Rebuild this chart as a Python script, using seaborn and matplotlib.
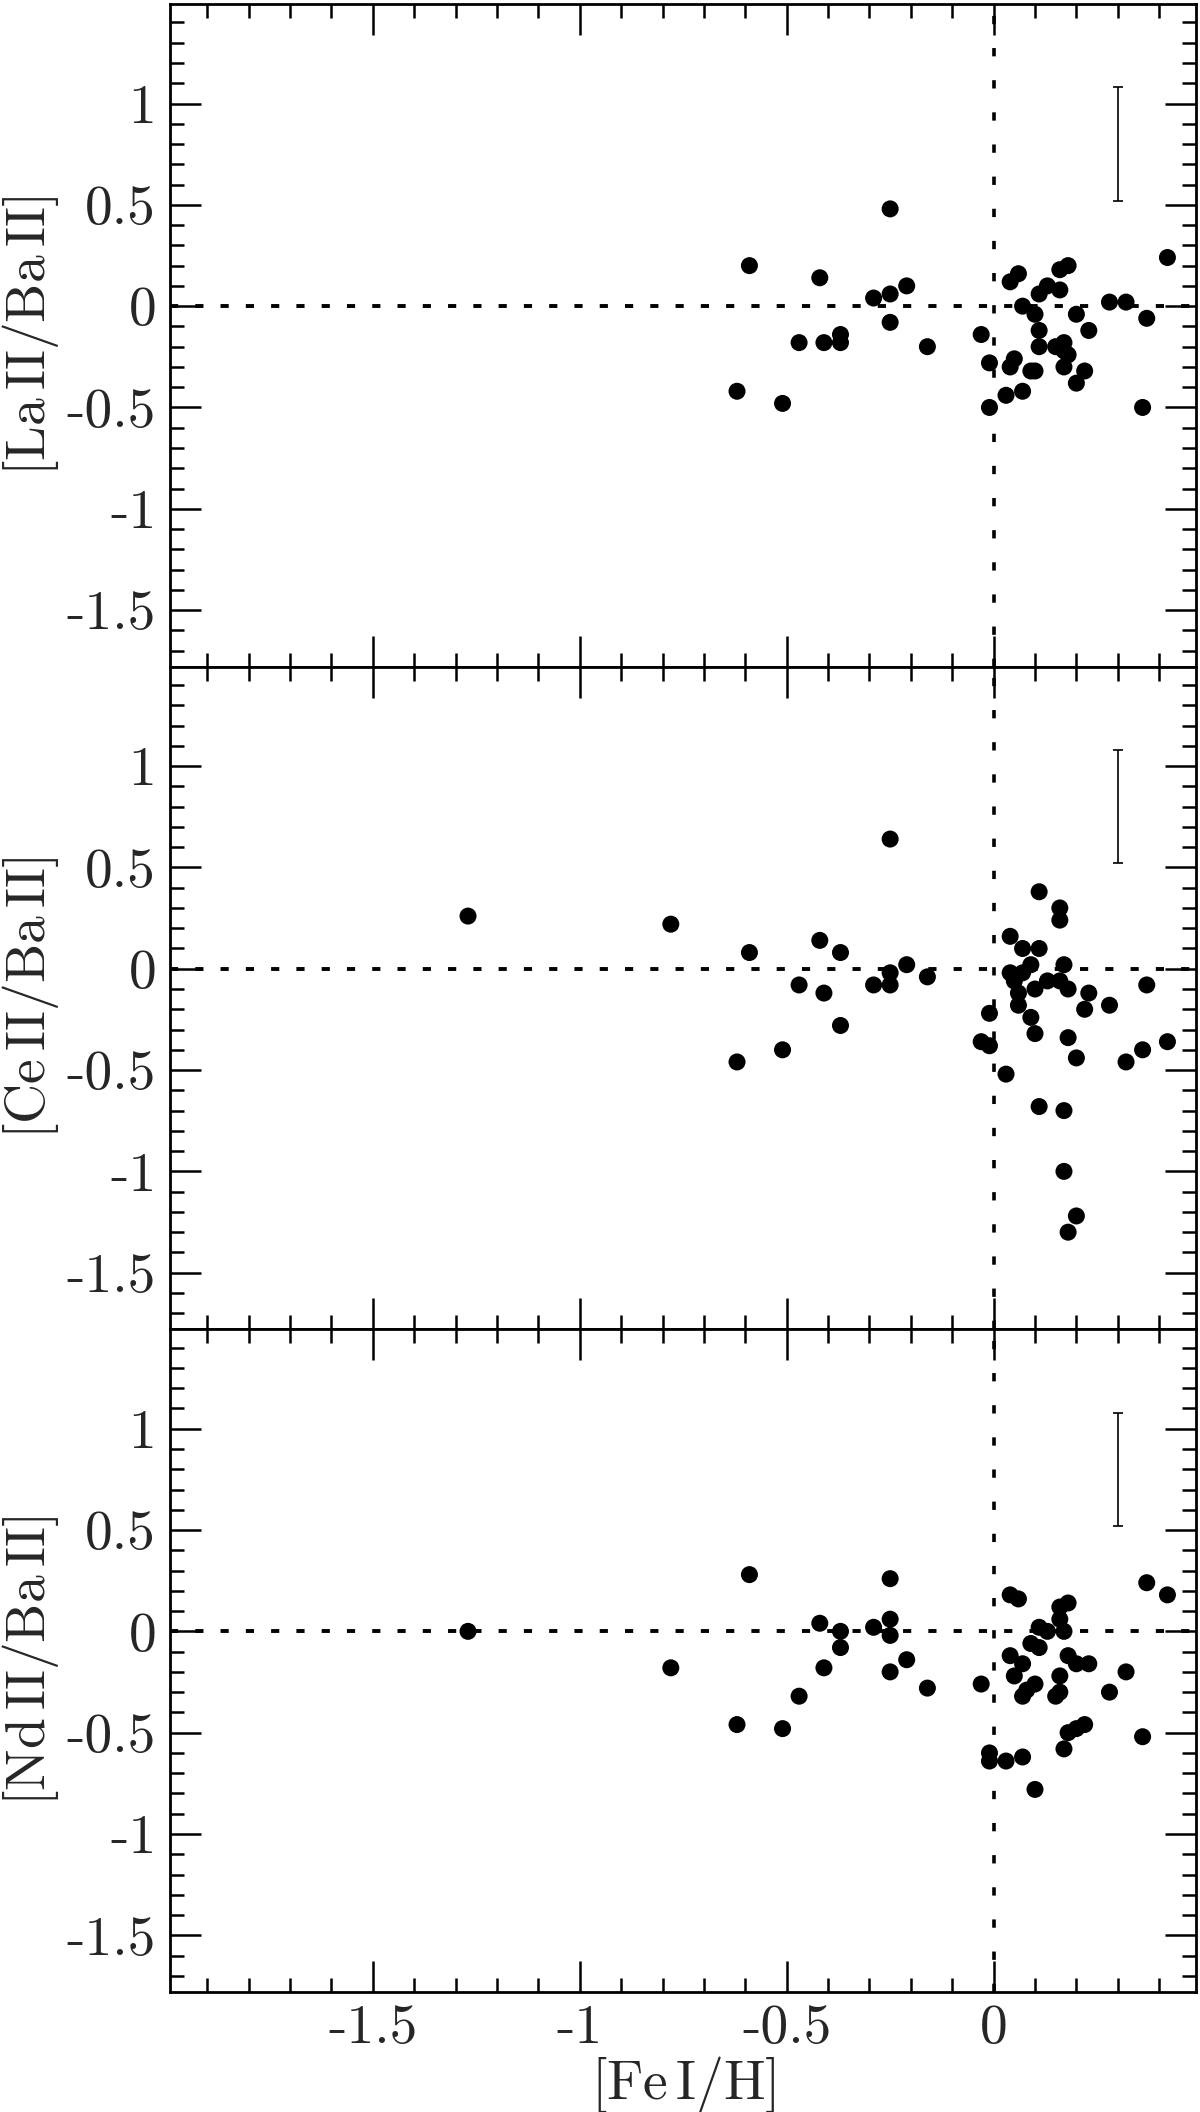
import matplotlib
matplotlib.use("Agg")
import matplotlib.pyplot as plt
from matplotlib.ticker import MultipleLocator, FuncFormatter
import seaborn as sns
import pandas as pd

# [Fe I/H] and abundance ratios
feh_la = [-0.59, -0.62, -0.51, -0.47, -0.42, -0.41, -0.37, -0.37, -0.29, -0.25, -0.25, -0.25,
          -0.21, -0.16, -0.03, -0.01, -0.01, 0.04, 0.06, 0.07, 0.10, 0.11, 0.13, 0.11, 0.11,
          0.16, 0.18, 0.16, 0.20, 0.23, 0.15, 0.17, 0.17, 0.18, 0.17, 0.22, 0.20, 0.04, 0.05,
          0.09, 0.10, 0.03, 0.07, 0.28, 0.32, 0.37, 0.36, 0.42]
la_ba = [0.20, -0.42, -0.48, -0.18, 0.14, -0.18, -0.14, -0.18, 0.04, 0.48, 0.06, -0.08,
         0.10, -0.20, -0.14, -0.28, -0.50, 0.12, 0.16, 0.00, -0.04, 0.06, 0.10, -0.12, -0.20,
         0.18, 0.20, 0.08, -0.04, -0.12, -0.20, -0.18, -0.22, -0.24, -0.30, -0.32, -0.38, -0.30, -0.26,
         -0.32, -0.32, -0.44, -0.42, 0.02, 0.02, -0.06, -0.50, 0.24]

feh_ce = [-1.27, -0.78, -0.59, -0.62, -0.51, -0.47, -0.42, -0.41, -0.37, -0.37, -0.29, -0.25,
          -0.25, -0.25, -0.21, -0.16, -0.03, -0.01, -0.01, 0.03, 0.04, 0.04, 0.05, 0.07, 0.07,
          0.06, 0.06, 0.09, 0.10, 0.09, 0.10, 0.11, 0.11, 0.11, 0.13, 0.16, 0.16, 0.16, 0.17,
          0.18, 0.18, 0.17, 0.17, 0.20, 0.18, 0.20, 0.23, 0.22, 0.28, 0.32, 0.36, 0.37, 0.42]
ce_ba = [0.26, 0.22, 0.08, -0.46, -0.40, -0.08, 0.14, -0.12, 0.08, -0.28, -0.08, 0.64,
         -0.02, -0.08, 0.02, -0.04, -0.36, -0.38, -0.22, -0.52, 0.16, -0.02, -0.06, 0.10, -0.02,
         -0.12, -0.18, 0.02, -0.10, -0.24, -0.32, 0.38, 0.10, -0.68, -0.06, 0.30, 0.24, -0.06, 0.02,
         -0.10, -0.34, -0.70, -1.00, -1.22, -1.30, -0.44, -0.12, -0.20, -0.18, -0.46, -0.40, -0.08, -0.36]

feh_nd = [-1.27, -0.78, -0.59, -0.62, -0.51, -0.47, -0.42, -0.41, -0.37, -0.37, -0.29, -0.25,
          -0.25, -0.25, -0.25, -0.21, -0.16, -0.03, -0.01, -0.01, 0.03, 0.04, 0.06, 0.04, 0.07,
          0.05, 0.07, 0.07, 0.08, 0.10, 0.09, 0.11, 0.11, 0.13, 0.10, 0.16, 0.17, 0.18, 0.16,
          0.18, 0.16, 0.16, 0.15, 0.20, 0.23, 0.17, 0.18, 0.20, 0.22, 0.28, 0.32, 0.36, 0.37, 0.42]
nd_ba = [0.00, -0.18, 0.28, -0.46, -0.48, -0.32, 0.04, -0.18, 0.00, -0.08, 0.02, 0.26,
         0.06, -0.02, -0.20, -0.14, -0.28, -0.26, -0.60, -0.64, -0.64, 0.18, 0.16, -0.12, -0.16,
         -0.22, -0.32, -0.62, -0.29, -0.26, -0.06, 0.02, -0.08, 0.00, -0.78, 0.06, 0.00, 0.14, 0.12,
         -0.12, -0.22, -0.30, -0.32, -0.16, -0.16, -0.58, -0.50, -0.48, -0.46, -0.30, -0.20, -0.52, 0.24, 0.18]

ylabels = [r'$[\mathrm{La\,II/Ba\,II}]$', r'$[\mathrm{Ce\,II/Ba\,II}]$', r'$[\mathrm{Nd\,II/Ba\,II}]$']
xlabel = r'$[\mathrm{Fe\,I/H}]$'

# typical error bar shown in the corner
err_x, err_y, err_size = 0.3, 0.8, 0.28

sns.set_style('ticks')
plt.rcParams['font.family'] = ['cmr10', 'DejaVu Serif']
plt.rcParams['mathtext.fontset'] = 'cm'
plt.rcParams['axes.unicode_minus'] = False
plt.rcParams['font.size'] = 40

fig, axes = plt.subplots(3, 1, figsize=(12, 21.12), dpi=100, sharex=True)
fig.subplots_adjust(left=0.1417, right=0.997, top=0.998, bottom=0.0568, hspace=0)


def tick_fmt(v, pos):
    s = '%g' % round(v, 2)
    return '0' if s == '-0' else s


fmt = FuncFormatter(tick_fmt)

panels = [(feh_la, la_ba), (feh_ce, ce_ba), (feh_nd, nd_ba)]
for ax, (xs, ys), lab in zip(axes, panels, ylabels):
    df = pd.DataFrame({'feh': xs, 'ratio': ys})
    ax.axhline(0, color='black', lw=2.8, ls=(0, (2.1, 4.4)), zorder=1)
    ax.axvline(0, color='black', lw=2.6, ls=(0, (2.3, 6.6)), zorder=1)
    sns.scatterplot(data=df, x='feh', y='ratio', ax=ax, color='black', s=150,
                    edgecolor='none', zorder=3)
    ax.errorbar([err_x], [err_y], yerr=[err_size], fmt='none', ecolor='black',
                elinewidth=1.2, capsize=3.6, capthick=1.2)
    ax.set_xlim(-1.99, 0.49)
    ax.set_ylim(-1.78, 1.49)
    ax.xaxis.set_major_locator(MultipleLocator(0.5))
    ax.xaxis.set_minor_locator(MultipleLocator(0.1))
    ax.yaxis.set_major_locator(MultipleLocator(0.5))
    ax.yaxis.set_minor_locator(MultipleLocator(0.1))
    ax.xaxis.set_major_formatter(fmt)
    ax.yaxis.set_major_formatter(fmt)
    ax.tick_params(which='both', direction='in', top=True, right=True, width=1.8,
                   labelsize=40, color='black')
    ax.tick_params(which='major', length=22)
    ax.tick_params(which='minor', length=10)
    ax.tick_params(axis='y', pad=10)
    ax.tick_params(axis='x', pad=9)
    for sp in ax.spines.values():
        sp.set_linewidth(2.0)
        sp.set_color('black')
    ax.set_ylabel(lab, fontsize=40, labelpad=4)
    ax.set_xlabel('')

axes[-1].set_xlabel(xlabel, fontsize=40, labelpad=0)

fig.savefig('out.png', dpi=100, facecolor='white')
